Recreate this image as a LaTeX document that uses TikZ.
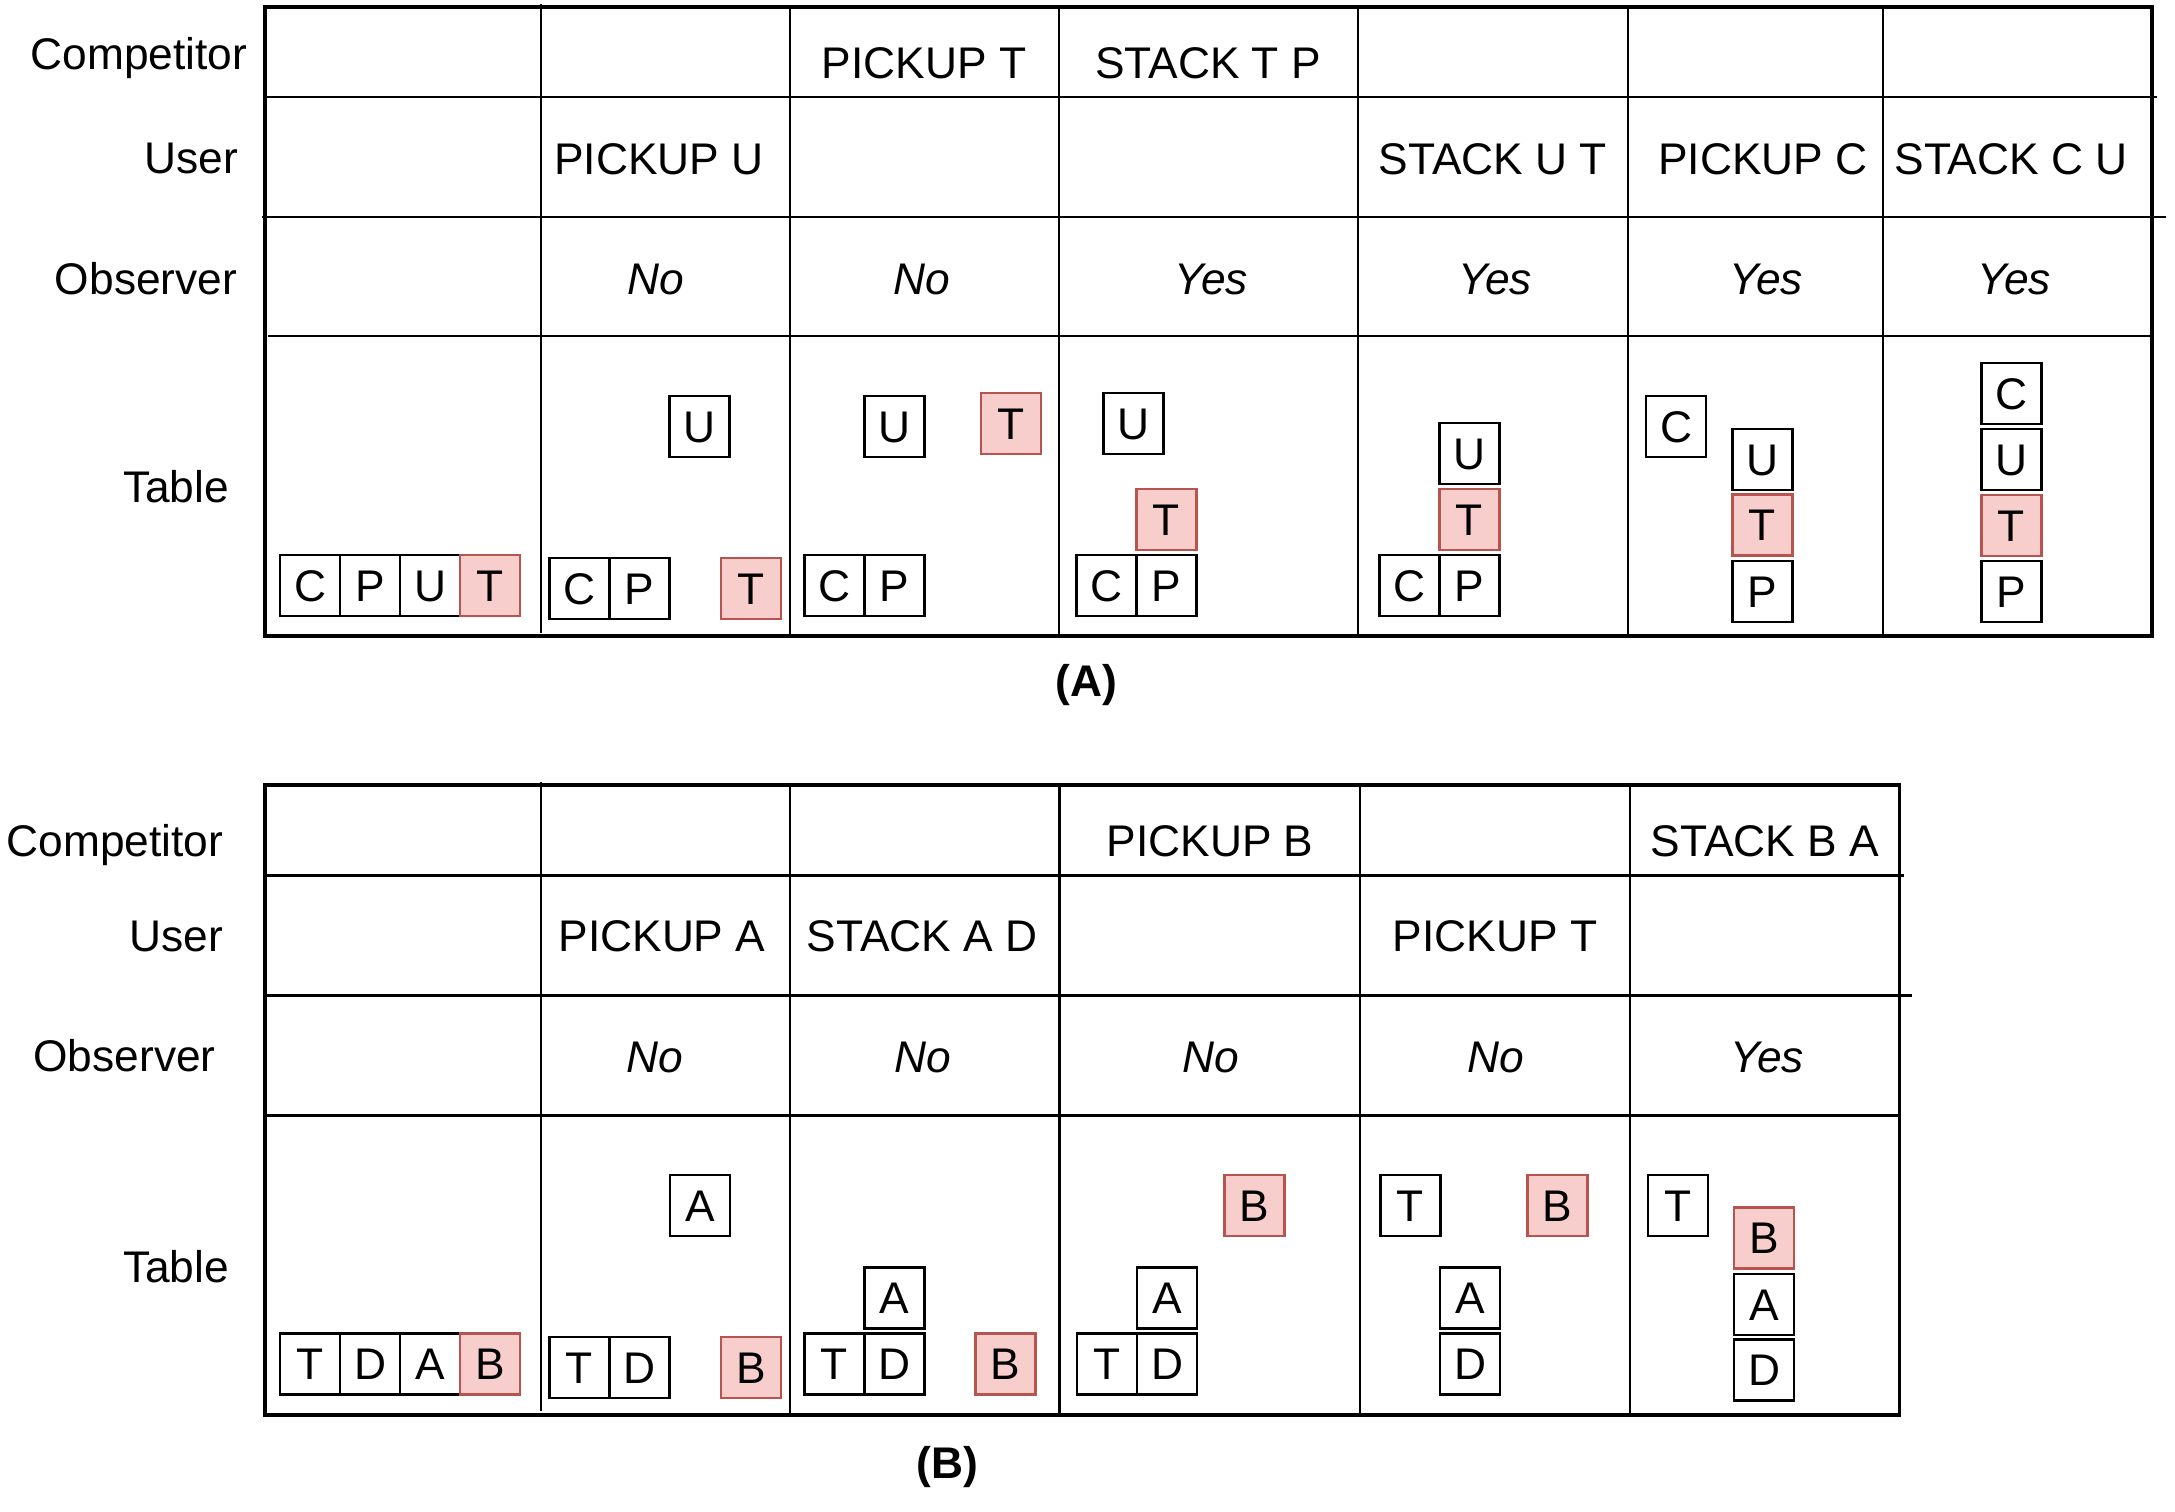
\documentclass[tikz,border=0pt]{standalone}
\usepackage{fontspec}
\setmainfont{Liberation Sans}
\definecolor{tgtred}{RGB}{184, 84, 80}
\definecolor{tgtpink}{RGB}{248, 206, 204}

\begin{document}
\begin{tikzpicture}[x=0.01cm, y=-0.01cm,
  font=\fontsize{12.6}{15}\selectfont,
  txt/.style={anchor=base, inner sep=0pt},
  ans/.style={txt, font=\fontsize{12.6}{15}\selectfont\itshape},
  capt/.style={txt, font=\fontsize{12.6}{15}\selectfont\bfseries},
  blk/.style={draw, line width=0.7pt, minimum width=0.6cm, minimum height=0.61cm,
    inner sep=0pt, text height=9pt, text depth=0pt},
  redblk/.style={blk, draw=tgtred, line width=0.8pt, fill=tgtpink},
  frame/.style={line width=0.9pt},
  rule/.style={line width=0.7pt}]
  \useasboundingbox (0,0) rectangle (2175,1511);

  % ---------- (A) ----------
  % grid
  \draw[frame] (265,7) rectangle (2152,636);
  \draw[rule] (265,97) -- (2157,97);
  \draw[rule] (262,217) -- (2166,217);
  \draw[rule] (268,336) -- (2152,336);
  \draw[rule] (541,4) -- (541,633);
  \draw[rule] (790,7) -- (790,636);
  \draw[rule] (1059,7) -- (1059,636);
  \draw[rule] (1358,7) -- (1358,636);
  \draw[rule] (1628,7) -- (1628,636);
  \draw[rule] (1883,7) -- (1883,636);

  % row labels
  \node[txt] (aComp) at (139,69) {Competitor};
  \node[txt] (aUser) at (191,173) {User};
  \node[txt] (aObs) at (146,294) {Observer};
  \node[txt] (aTable) at (176,502) {Table};

  % actions
  \node[txt] (aComp2) at (924,78) {PICKUP T};
  \node[txt] (aComp3) at (1208,78) {STACK T P};
  \node[txt] (aUser1) at (659,174) {PICKUP U};
  \node[txt] (aUser4) at (1493,174) {STACK U T};
  \node[txt] (aUser5) at (1763,174) {PICKUP C};
  \node[txt] (aUser6) at (2011,174) {STACK C U};

  % observer
  \node[ans] (aObs1) at (656,294.5) {No};
  \node[ans] (aObs2) at (922,294.5) {No};
  \node[ans] (aObs3) at (1211,294.5) {Yes};
  \node[ans] (aObs4) at (1495,294.5) {Yes};
  \node[ans] (aObs5) at (1766,294.5) {Yes};
  \node[ans] (aObs6) at (2014,294.5) {Yes};

  % start
  \node[blk] (a0c) at (310,585.5) {C};
  \node[blk] (a0p) at (370,585.5) {P};
  \node[blk] (a0u) at (430,585.5) {U};
  \node[redblk] (a0t) at (490,585.5) {T};

  % PICKUP U
  \node[blk] (a1c) at (579.5,588.5) {C};
  \node[blk] (a1p) at (639.5,588.5) {P};
  \node[redblk] (a1t) at (751,588.5) {T};
  \node[blk] (a1u) at (699.5,426.5) {U};

  % PICKUP T
  \node[blk] (a2c) at (834.5,585.5) {C};
  \node[blk] (a2p) at (894.5,585.5) {P};
  \node[blk] (a2u) at (894.5,426.5) {U};
  \node[redblk] (a2t) at (1011,423.5) {T};

  % STACK T P
  \node[blk] (a3c) at (1106.5,585.5) {C};
  \node[blk] (a3p) at (1166.5,585.5) {P};
  \node[redblk] (a3t) at (1166.5,519.5) {T};
  \node[blk] (a3u) at (1133.5,423.5) {U};

  % STACK U T
  \node[blk] (a4c) at (1409.5,585.5) {C};
  \node[blk] (a4p) at (1469.5,585.5) {P};
  \node[redblk] (a4t) at (1469.5,519.5) {T};
  \node[blk] (a4u) at (1469.5,453.5) {U};

  % PICKUP C
  \node[blk] (a5c) at (1676,426.5) {C};
  \node[blk] (a5u) at (1762.5,459.5) {U};
  \node[redblk] (a5t) at (1762.5,525) {T};
  \node[blk] (a5p) at (1762.5,591.5) {P};

  % STACK C U
  \node[blk] (a6c) at (2011.5,393.5) {C};
  \node[blk] (a6u) at (2011.5,459.5) {U};
  \node[redblk] (a6t) at (2011.5,525.5) {T};
  \node[blk] (a6p) at (2011.5,591.5) {P};

  \node[capt] (capA) at (1086,696) {(A)};

  % ---------- (B) ----------
  % grid
  \draw[frame] (265,785) rectangle (1899.5,1415);
  \draw[rule] (265,875.5) -- (1904,875.5);
  \draw[rule] (265,995.5) -- (1912,995.5);
  \draw[rule] (267,1115.5) -- (1899.5,1115.5);
  \draw[rule] (541,781.5) -- (541,1411);
  \draw[rule] (790,785) -- (790,1415);
  \draw[rule] (1059.5,785) -- (1059.5,1415);
  \draw[rule] (1360,785) -- (1360,1415);
  \draw[rule] (1630,785) -- (1630,1415);

  % row labels
  \node[txt] (bComp) at (115,856) {Competitor};
  \node[txt] (bUser) at (176.5,951.5) {User};
  \node[txt] (bObs) at (124.5,1071.5) {Observer};
  \node[txt] (bTable) at (176,1282) {Table};

  % actions
  \node[txt] (bComp3) at (1210,856) {PICKUP B};
  \node[txt] (bComp5) at (1765,856) {STACK B A};
  \node[txt] (bUser1) at (662,951.5) {PICKUP A};
  \node[txt] (bUser2) at (922,951.5) {STACK A D};
  \node[txt] (bUser4) at (1495,951.5) {PICKUP T};

  % observer
  \node[ans] (bObs1) at (655,1072) {No};
  \node[ans] (bObs2) at (923,1072) {No};
  \node[ans] (bObs3) at (1211,1072) {No};
  \node[ans] (bObs4) at (1496,1072) {No};
  \node[ans] (bObs5) at (1767,1072) {Yes};

  % start
  \node[blk] (b0t) at (310,1364) {T};
  \node[blk] (b0d) at (370,1364) {D};
  \node[blk] (b0a) at (430,1364) {A};
  \node[redblk] (b0b) at (490,1364) {B};

  % PICKUP A
  \node[blk] (b1t) at (579.5,1367.5) {T};
  \node[blk] (b1d) at (639.5,1367.5) {D};
  \node[redblk] (b1b) at (751,1367.5) {B};
  \node[blk] (b1a) at (700,1205.5) {A};

  % STACK A D
  \node[blk] (b2t) at (834.5,1364) {T};
  \node[blk] (b2d) at (894.5,1364) {D};
  \node[blk] (b2a) at (894.5,1298) {A};
  \node[redblk] (b2b) at (1005.5,1364) {B};

  % PICKUP B
  \node[blk] (b3t) at (1107,1364) {T};
  \node[blk] (b3d) at (1167,1364) {D};
  \node[blk] (b3a) at (1167,1298) {A};
  \node[redblk] (b3b) at (1254.5,1205.5) {B};

  % PICKUP T
  \node[blk] (b4t) at (1410.5,1205.5) {T};
  \node[redblk] (b4b) at (1557.5,1205.5) {B};
  \node[blk] (b4a) at (1470,1298) {A};
  \node[blk] (b4d) at (1470,1364) {D};

  % STACK B A
  \node[blk] (b5t) at (1678,1205.5) {T};
  \node[redblk] (b5b) at (1764,1238) {B};
  \node[blk] (b5a) at (1764,1304.5) {A};
  \node[blk] (b5d) at (1764,1370) {D};

  \node[capt] (capB) at (947,1478) {(B)};
\end{tikzpicture}
\end{document}
